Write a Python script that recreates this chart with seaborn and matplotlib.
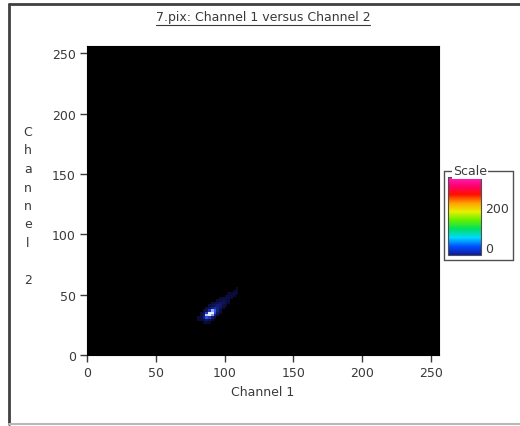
import numpy as np
import pandas as pd
import matplotlib
matplotlib.use("Agg")
import matplotlib.pyplot as plt
import seaborn as sns
from matplotlib.colors import LinearSegmentedColormap, Normalize
from matplotlib.lines import Line2D
from matplotlib.cm import ScalarMappable

# 2D histogram cells (bin centre on channel 1, bin centre on channel 2, pixel count)
ch1 = [85, 87, 89,
       81, 83, 85, 87, 89, 91,
       81, 83, 85, 87, 89, 91, 93,
       83, 85, 87, 89, 91, 93, 95,
       83, 85, 87, 89, 91, 93, 95, 97,
       85, 87, 89, 91, 93, 95, 97,
       87, 89, 91, 93, 95, 97, 99,
       89, 91, 93, 95, 97, 99, 101,
       91, 93, 95, 97, 99, 101, 103,
       95, 97, 99, 101, 103,
       97, 99, 101, 103, 105,
       101, 103, 105, 107,
       103, 105, 107, 109,
       107, 109,
       109]
ch2 = [27, 27, 27,
       29, 29, 29, 29, 29, 29,
       31, 31, 31, 31, 31, 31, 31,
       33, 33, 33, 33, 33, 33, 33,
       35, 35, 35, 35, 35, 35, 35, 35,
       37, 37, 37, 37, 37, 37, 37,
       39, 39, 39, 39, 39, 39, 39,
       41, 41, 41, 41, 41, 41, 41,
       43, 43, 43, 43, 43, 43, 43,
       45, 45, 45, 45, 45,
       47, 47, 47, 47, 47,
       49, 49, 49, 49,
       51, 51, 51, 51,
       53, 53,
       55]
counts = [3, 5, 3,
          3, 6, 12, 25, 15, 5,
          4, 10, 35, 90, 70, 25, 6,
          8, 30, 160, 220, 130, 35, 8,
          5, 15, 75, 200, 210, 85, 20, 5,
          8, 20, 65, 140, 95, 35, 10,
          8, 18, 40, 55, 40, 18, 6,
          8, 15, 25, 32, 28, 12, 4,
          6, 10, 16, 22, 20, 10, 4,
          7, 10, 15, 13, 7,
          5, 8, 10, 9, 5,
          5, 7, 7, 4,
          3, 4, 5, 3,
          3, 3,
          2]

axis_ticks = [0, 50, 100, 150, 200, 250]
scale_ticks = [0, 200]

df = pd.DataFrame({"Channel 1": ch1, "Channel 2": ch2, "count": counts})

blob_cmap = LinearSegmentedColormap.from_list(
    "blob", ["#08082e", "#16248a", "#2c48e6", "#8aa4ff", "#e4ecff"])
scale_cmap = LinearSegmentedColormap.from_list(
    "scale", ["#1018a0", "#0050ff", "#00d8ff", "#00e060", "#60f000",
              "#e8f000", "#ffa000", "#ff1000", "#ff0070", "#ff20c0"])

sns.set_style("white")
plt.rcParams["font.family"] = ["DejaVu Sans"]
txt_col = "#3a3a3a"

fig = plt.figure(figsize=(5.2, 4.27), dpi=100)
W, H = 520.0, 427.0

ax = fig.add_axes([87 / W, 1 - 356 / H, (439 - 87) / W, (356 - 47) / H])
ax.set_facecolor("black")
sns.histplot(data=df, x="Channel 1", y="Channel 2", weights="count",
             binwidth=2, binrange=((0, 256), (0, 256)),
             cmap=blob_cmap, vmin=0, vmax=180, ax=ax)
ax.set_xlim(0, 256)
ax.set_ylim(0, 256)
ax.set_xticks(axis_ticks)
ax.set_yticks(axis_ticks)
ax.tick_params(axis="both", direction="out", length=5, width=1,
               colors=txt_col, labelsize=9, pad=3, bottom=True, left=True)
for s in ax.spines.values():
    s.set_color("black")
ax.set_xlabel("Channel 1", fontsize=9, color=txt_col, labelpad=4)
ax.set_ylabel("")

# stacked vertical y label
fig.text(28 / W, 1 - 126 / H, "\n".join(list("Channel") + ["", "2"]),
         ha="center", va="top", fontsize=9, color=txt_col, linespacing=1.55)

# underlined title
title = fig.text(263 / W, 1 - 18 / H, "7.pix: Channel 1 versus Channel 2",
                 ha="center", va="center", fontsize=9, color=txt_col)
fig.canvas.draw()
bb = title.get_window_extent().transformed(fig.transFigure.inverted())
fig.add_artist(Line2D([bb.x0, bb.x1], [bb.y0 - 1 / H, bb.y0 - 1 / H],
                      transform=fig.transFigure, color=txt_col, lw=0.8))

# colour scale
cax = fig.add_axes([448 / W, 1 - 256 / H, 33 / W, (256 - 178) / H])
sm = ScalarMappable(norm=Normalize(vmin=-40, vmax=350), cmap=scale_cmap)
cb = fig.colorbar(sm, cax=cax, ticks=scale_ticks)
cb.outline.set_edgecolor("#505050")
cax.tick_params(length=0, labelsize=9, colors=txt_col, pad=3)

# scale box
bx0, bx1, by0, by1 = 444 / W, 513 / W, 1 - 261 / H, 1 - 172 / H
for xs, ys in [([bx0, bx0], [by0, by1]), ([bx1, bx1], [by0, by1]),
               ([bx0, bx1], [by0, by0]), ([bx0, bx1], [by1, by1])]:
    fig.add_artist(Line2D(xs, ys, transform=fig.transFigure, color="#505050", lw=1))
fig.text(470 / W, by1, "Scale", ha="center", va="center", fontsize=9,
         color=txt_col, bbox=dict(facecolor="white", edgecolor="none", pad=1))

# outer window frame
fx0, fy0, fy1 = 9 / W, 1 - 425 / H, 1 - 5 / H
fig.add_artist(Line2D([fx0, 1.0], [fy1, fy1], transform=fig.transFigure, color="#404040", lw=2))
fig.add_artist(Line2D([fx0, fx0], [fy0, fy1], transform=fig.transFigure, color="#404040", lw=2))
fig.add_artist(Line2D([fx0, 1.0], [fy0, fy0], transform=fig.transFigure, color="#b8b8b8", lw=1.5))

fig.savefig("out.png", dpi=100)
